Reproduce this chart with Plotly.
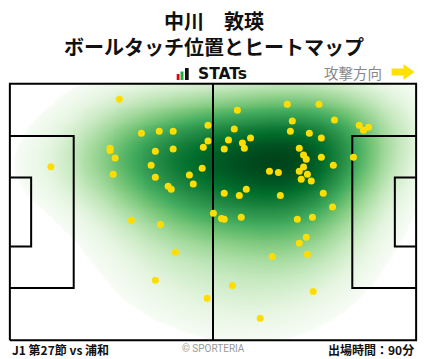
import numpy as np
import plotly.graph_objects as go

W, H = 428, 359
ML, MR, MT, MB = 6, 8, 80, 15

player = "中川　敦瑛"
subtitle = "ボールタッチ位置とヒートマップ"
match_label = "J1 第27節 vs 浦和"
minutes_label = "出場時間：90分"
direction_label = "攻撃方向"
brand = "STATs"
credit = "© SPORTERIA"

# touch positions in pitch metres (105 x 68), attacking left -> right
touch_x = [28.3, 10.6, 25.9, 25.9, 27.2, 26.7, 34.0, 38.6, 42.2, 37.6,
           42.2, 36.5, 37.6, 40.9, 41.7, 46.4, 47.4, 49.7, 50.0, 51.2,
           51.2, 31.4, 38.9, 42.8, 37.6, 51.0, 57.5, 64.7, 78.4, 58.8,
           71.7, 79.9, 58.0, 56.5, 62.2, 60.1, 60.6, 55.4, 73.0, 72.5,
           77.4, 80.5, 74.8, 75.9, 76.6, 80.5, 75.9, 74.8, 76.9, 75.3,
           77.9, 67.1, 69.4, 55.4, 61.1, 59.3, 69.9, 52.6, 54.7, 55.4,
           59.8, 74.3, 78.2, 76.6, 74.8, 67.8, 76.9, 83.9, 90.3, 91.4,
           92.7, 88.8, 83.6, 81.0, 83.4]
touch_y = [63.9, 46.0, 50.9, 50.3, 48.3, 44.0, 54.9, 55.4, 55.4, 50.1,
           50.7, 46.4, 43.2, 40.8, 40.0, 43.8, 41.4, 45.6, 51.2, 57.0,
           52.8, 31.8, 30.7, 23.3, 15.9, 11.1, 14.5, 5.8, 12.9, 61.0,
           62.6, 62.6, 56.0, 53.1, 53.6, 52.3, 50.9, 50.7, 58.1, 55.4,
           54.9, 53.6, 50.9, 49.1, 48.0, 48.5, 45.9, 44.8, 44.0, 42.7,
           42.2, 44.8, 44.5, 39.0, 40.0, 38.4, 38.4, 33.7, 32.3, 32.1,
           32.6, 32.1, 32.6, 27.3, 25.7, 22.2, 22.8, 58.4, 57.0, 55.7,
           56.5, 48.5, 46.4, 39.0, 35.3]

PITCH_L, PITCH_W = 105.0, 68.0
BOX_D, BOX_W = 16.5, 40.3
SIX_D, SIX_W = 5.5, 18.3
BW_ADJUST = 1.42
THRESH = 0.065     # share of peak density below which the pitch stays white
GAMMA = 0.78


def px_to_paper(px, py):
    return (px - ML) / (W - ML - MR), (H - MB - py) / (H - MT - MB)


# kernel density of the touches (Scott's rule, full covariance)
pts = np.vstack([touch_x, touch_y])
n = pts.shape[1]
factor = n ** (-1.0 / 6.0) * BW_ADJUST
cov = np.cov(pts) * factor ** 2
inv = np.linalg.inv(cov)
gx = np.linspace(0, PITCH_L, 211)
gy = np.linspace(0, PITCH_W, 137)
GX, GY = np.meshgrid(gx, gy)
dx = GX[..., None] - pts[0]
dy = GY[..., None] - pts[1]
q = inv[0, 0] * dx * dx + 2 * inv[0, 1] * dx * dy + inv[1, 1] * dy * dy
dens = np.exp(-0.5 * q).sum(-1)
z = (dens / dens.max()) ** GAMMA

greens = ['#f7fcf5', '#e5f5e0', '#c7e9c0', '#a1d99b', '#74c476',
          '#41ab5d', '#238b45', '#006d2c', '#00441b']
cs = [[0.0, '#ffffff']]
eps = 0.004
for i, c in enumerate(greens):
    cs.append([eps + (1 - eps) * i / (len(greens) - 1), c])

fig = go.Figure()
fig.add_trace(go.Heatmap(x=gx, y=gy, z=z, colorscale=cs, zmin=THRESH ** GAMMA,
                         zmax=1.0, showscale=False,
                         zsmooth='best', hoverinfo='skip'))

# pitch markings
lx, ly = [], []


def seg(xs, ys):
    lx.extend(xs + [None])
    ly.extend(ys + [None])


seg([0, PITCH_L, PITCH_L, 0, 0], [0, 0, PITCH_W, PITCH_W, 0])
seg([PITCH_L / 2, PITCH_L / 2], [0, PITCH_W])
for side in (0, 1):
    for d, w in ((BOX_D, BOX_W), (SIX_D, SIX_W)):
        y0, y1 = (PITCH_W - w) / 2, (PITCH_W + w) / 2
        if side == 0:
            seg([0, d, d, 0], [y0, y0, y1, y1])
        else:
            seg([PITCH_L, PITCH_L - d, PITCH_L - d, PITCH_L], [y0, y0, y1, y1])

fig.add_trace(go.Scatter(x=lx, y=ly, mode='lines',
                         line=dict(color='#000000', width=2),
                         hoverinfo='skip', showlegend=False))

fig.add_trace(go.Scatter(x=touch_x, y=touch_y, mode='markers',
                         marker=dict(size=7, color='#FFDD00'),
                         hoverinfo='skip', showlegend=False))

ann = []
jp = "Noto Sans CJK JP"


def add_text(text, px, py, size, color='#111111', anchor='center', family=jp):
    x, y = px_to_paper(px, py)
    ann.append(dict(text=text, x=x, y=y, xref='paper', yref='paper',
                    xanchor=anchor, yanchor='middle', showarrow=False,
                    font=dict(family=family, size=size, color=color)))


add_text('<b>' + player + '</b><br><b>' + subtitle + '</b>', 214, 33.5, 20)
add_text('<b>' + brand + '</b>', 196, 74, 15.5, anchor='left', family='DejaVu Sans')
add_text(direction_label, 384, 72, 14.5, color='#888888', anchor='right')
add_text('<b>' + match_label + '</b>', 10, 349, 12, anchor='left')
add_text(credit, 213, 348, 10, color='#999999', family='Roboto')
add_text('<b>' + minutes_label + '</b>', 416, 349, 12, anchor='right')

shapes = []


def prect(x0, y0, x1, y1, color):
    a0, b0 = px_to_paper(x0, y0)
    a1, b1 = px_to_paper(x1, y1)
    shapes.append(dict(type='rect', xref='paper', yref='paper', x0=a0, y0=b0,
                       x1=a1, y1=b1, fillcolor=color, line=dict(width=0)))


# STATs logo bars
prect(176.7, 74, 179.5, 80, '#e60012')
prect(180.5, 71.5, 183.5, 80, '#22ac38')
prect(185, 68, 188.7, 80, '#111111')

# direction arrow
pts_arrow = [(391.5, 68.5), (403.5, 68.5), (403.5, 64), (414.5, 72),
             (403.5, 80), (403.5, 75.5), (391.5, 75.5)]
path = ''
for i, (ax, ay) in enumerate(pts_arrow):
    a, b = px_to_paper(ax, ay)
    path += ('M' if i == 0 else 'L') + f'{a:.5f},{b:.5f}'
path += 'Z'
shapes.append(dict(type='path', xref='paper', yref='paper', path=path,
                   fillcolor='#FFE100', line=dict(width=0)))

fig.update_layout(
    width=W, height=H, margin=dict(l=ML, r=MR, t=MT, b=MB, pad=0),
    paper_bgcolor='white', plot_bgcolor='white', showlegend=False,
    xaxis=dict(range=[-1, PITCH_L + 1], visible=False, fixedrange=True),
    yaxis=dict(range=[-1, PITCH_W + 1], visible=False, fixedrange=True),
    annotations=ann, shapes=shapes,
)

fig.write_html("out.html")
